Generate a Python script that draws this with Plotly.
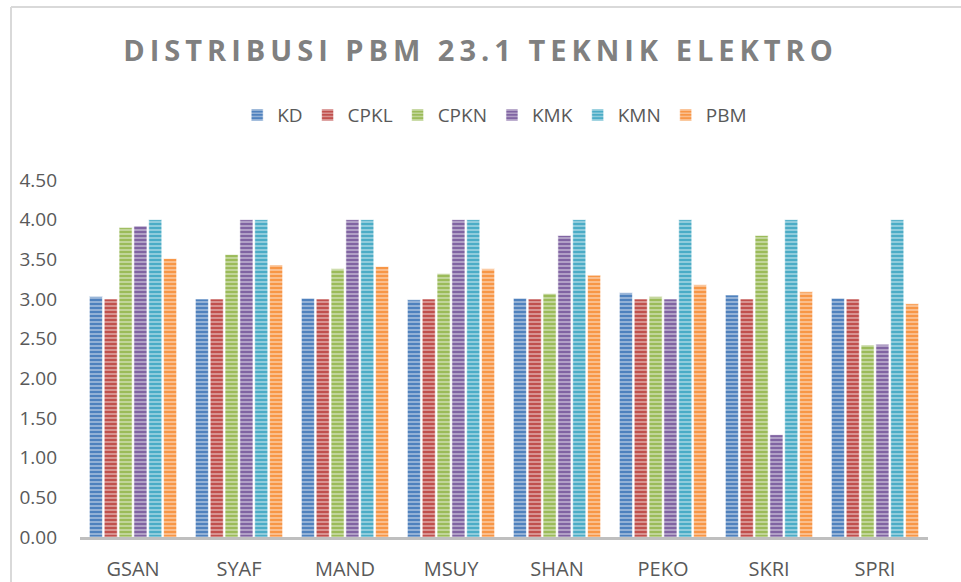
import plotly.graph_objects as go

students = ["GSAN", "SYAF", "MAND", "MSUY", "SHAN", "PEKO", "SKRI", "SPRI"]

kd = [3.03, 3.00, 3.01, 2.99, 3.01, 3.08, 3.05, 3.01]
cpkl = [3.00, 3.00, 3.00, 3.00, 3.00, 3.00, 3.00, 3.00]
cpkn = [3.90, 3.56, 3.38, 3.32, 3.07, 3.03, 3.80, 2.42]
kmk = [3.92, 4.00, 4.00, 4.00, 3.80, 3.00, 1.29, 2.43]
kmn = [4.00, 4.00, 4.00, 4.00, 4.00, 4.00, 4.00, 4.00]
pbm = [3.51, 3.43, 3.41, 3.38, 3.30, 3.18, 3.09, 2.94]

series = [
    ("KD", kd, "#4f81bd"),
    ("CPKL", cpkl, "#c0504d"),
    ("CPKN", cpkn, "#9bbb59"),
    ("KMK", kmk, "#8064a2"),
    ("KMN", kmn, "#4bacc6"),
    ("PBM", pbm, "#f79646"),
]

FONT = "Open Sans"
TEXT = "#595959"

fig = go.Figure()

for name, vals, col in series:
    fig.add_trace(
        go.Bar(
            x=students,
            y=vals,
            name=name,
            marker=dict(
                color=col,
                line=dict(color="rgba(255,255,255,0.6)", width=1),
                pattern=dict(
                    shape="-",
                    size=4,
                    solidity=0.35,
                    fgcolor="white",
                    fgopacity=0.55,
                    bgcolor=col,
                    fillmode="overlay",
                ),
            ),
        )
    )

fig.update_layout(
    width=961,
    height=582,
    margin=dict(l=80, r=33, t=180, b=45, autoexpand=False),
    paper_bgcolor="white",
    plot_bgcolor="white",
    barmode="group",
    bargap=0.16,
    bargroupgap=0.12,
    font=dict(family=FONT, color=TEXT),
    title=dict(
        text="<b>DISTRIBUSI PBM 23.1 TEKNIK ELEKTRO</b>",
        x=0.5,
        xref="container",
        xanchor="center",
        y=1 - 51 / 582,
        yref="container",
        yanchor="middle",
        font=dict(family=FONT, size=29, color="#808080"),
    ),
    legend=dict(
        orientation="h",
        x=0.489,
        xanchor="center",
        y=1.182,
        yanchor="middle",
        font=dict(size=19, color=TEXT),
    ),
    showlegend=True,
)

fig.update_xaxes(
    showline=True,
    linecolor="#bfbfbf",
    linewidth=3,
    showgrid=False,
    ticks="",
    tickangle=0,
    tickfont=dict(size=20, color=TEXT),
    ticklabelstandoff=12,
)

fig.update_yaxes(
    range=[0, 4.5],
    dtick=0.5,
    tickformat=".2f",
    showgrid=False,
    showline=False,
    zeroline=False,
    ticks="",
    tickfont=dict(size=19, color=TEXT),
    ticklabelstandoff=22,
)

# chart border (top and left edges visible)
fig.add_shape(type="line", xref="paper", yref="paper",
              x0=(11 - 80) / 848, x1=(11 - 80) / 848, y0=(537 - 7) / 357, y1=-0.2,
              line=dict(color="#d9d9d9", width=2))
fig.add_shape(type="line", xref="paper", yref="paper",
              x0=(11 - 80) / 848, x1=1.1, y0=(537 - 7) / 357, y1=(537 - 7) / 357,
              line=dict(color="#d9d9d9", width=2))

fig.write_html(
    "out.html",
    config={"displayModeBar": False},
    post_script=(
        "document.body.style.margin='0';"
        "var t=document.querySelector('.gtitle'); if(t){t.style.letterSpacing='5px';}"
    ),
)
